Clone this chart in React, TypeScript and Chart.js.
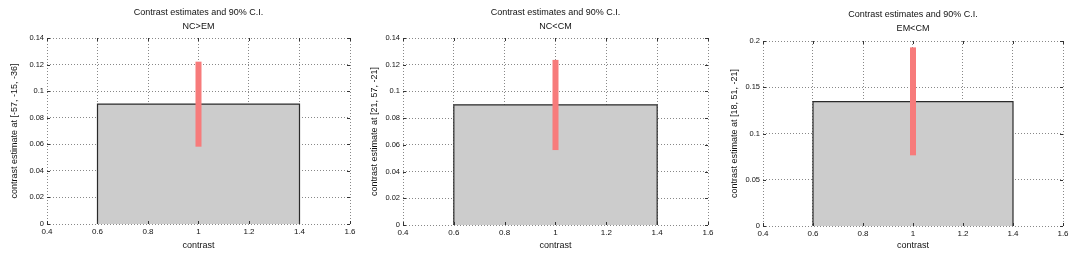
import React, { useEffect, useRef } from 'react';
import { Chart, registerables } from 'chart.js';

Chart.register(...registerables);

// ---------- data ----------
const contrastNames = ['NC>EM', 'NC<CM', 'EM<CM'];
const peakCoords = ['[-57, -15, -36]', '[21, 57, -21]', '[18, 51, -21]'];
const estimates = [0.0903, 0.09, 0.1345];
const ciLower = [0.0582, 0.0561, 0.0764];
const ciUpper = [0.1222, 0.1236, 0.1931];
const barCenter = 1;
const barEdges = [0.6, 1.4];
const xTicks = [0.4, 0.6, 0.8, 1, 1.2, 1.4, 1.6];
const yTicksSmall = [0, 0.02, 0.04, 0.06, 0.08, 0.1, 0.12, 0.14];
const yTicksLarge = [0, 0.05, 0.1, 0.15, 0.2];
const yTickSets = [yTicksSmall, yTicksSmall, yTicksLarge];
const titleText = 'Contrast estimates and 90% C.I.';
const xAxisLabel = 'contrast';
const yAxisLabelPrefix = 'contrast estimate at ';

// ---------- layout (pixels) ----------
const H = 261;
const panels = [
  { left: 0, width: 360, plotL: 47, plotR: 350, plotT: 38, plotB: 224, tTop: 6, tBot: 4 },
  { left: 360, width: 360, plotL: 43, plotR: 348, plotT: 38, plotB: 225, tTop: 6, tBot: 4 },
  { left: 720, width: 364, plotL: 43, plotR: 343, plotT: 41, plotB: 226, tTop: 8, tBot: 5 },
];

const FONT = "'Liberation Sans', Arial, Helvetica, sans-serif";
const TEXT = '#111';
const fmt = (v: number) => String(+Number(v).toFixed(3));

const inwardTicks = {
  id: 'inwardTicks',
  afterDraw(chart: any) {
    const { ctx, chartArea } = chart;
    const xs = chart.scales.x;
    const ys = chart.scales.y;
    const L = 3;
    ctx.save();
    ctx.strokeStyle = '#333';
    ctx.lineWidth = 1;
    ctx.beginPath();
    xs.ticks.forEach((t: any) => {
      const px = Math.round(xs.getPixelForValue(t.value)) + 0.5;
      ctx.moveTo(px, chartArea.bottom);
      ctx.lineTo(px, chartArea.bottom - L);
      ctx.moveTo(px, chartArea.top);
      ctx.lineTo(px, chartArea.top + L);
    });
    ys.ticks.forEach((t: any) => {
      const py = Math.round(ys.getPixelForValue(t.value)) + 0.5;
      ctx.moveTo(chartArea.left, py);
      ctx.lineTo(chartArea.left + L, py);
      ctx.moveTo(chartArea.right, py);
      ctx.lineTo(chartArea.right - L, py);
    });
    ctx.stroke();
    ctx.restore();
  },
};

function Panel({ idx }: { idx: number }) {
  const ref = useRef<HTMLCanvasElement>(null);
  const p = panels[idx];
  useEffect(() => {
    const canvas = ref.current!;
    const yTicks = yTickSets[idx];
    const est = estimates[idx];
    const chart = new Chart(canvas, {
      type: 'line',
      data: {
        datasets: [
          {
            data: [
              { x: barEdges[0], y: 0 },
              { x: barEdges[0], y: est },
              { x: barEdges[1], y: est },
              { x: barEdges[1], y: 0 },
            ],
            order: 2,
            fill: 'origin',
            backgroundColor: '#cccccc',
            borderColor: '#2a2a2a',
            borderWidth: 1.2,
            pointRadius: 0,
            tension: 0,
          },
          {
            data: [
              { x: barCenter, y: ciLower[idx] },
              { x: barCenter, y: ciUpper[idx] },
            ],
            order: 1,
            fill: false,
            borderColor: '#f77b7b',
            borderWidth: 6,
            borderCapStyle: 'butt',
            pointRadius: 0,
          },
        ],
      } as any,
      options: {
        responsive: false,
        animation: false,
        devicePixelRatio: 1,
        layout: { padding: { left: 0, right: p.width - p.plotR, top: 0, bottom: 0 } },
        plugins: {
          legend: { display: false },
          tooltip: { enabled: false },
          title: {
            display: true,
            fullSize: false,
            text: [titleText, contrastNames[idx]],
            color: TEXT,
            font: { family: FONT, size: 9, weight: 'normal', lineHeight: 14 / 9 },
            padding: { top: p.tTop, bottom: p.tBot },
          },
        },
        scales: {
          x: {
            type: 'linear',
            min: xTicks[0],
            max: xTicks[xTicks.length - 1],
            afterBuildTicks: (s: any) => {
              s.ticks = xTicks.map((v) => ({ value: v }));
            },
            afterFit: (s: any) => {
              s.height = H - p.plotB;
            },
            ticks: {
              autoSkip: false,
              maxRotation: 0,
              padding: 3,
              color: TEXT,
              font: { family: FONT, size: 8 },
              callback: (v: any) => fmt(v),
            },
            grid: { color: '#888', lineWidth: 1, drawTicks: false },
            border: { display: false, dash: [1, 2] },
            title: {
              display: true,
              text: xAxisLabel,
              color: TEXT,
              font: { family: FONT, size: 9 },
              padding: { top: 0, bottom: 10.5 },
            },
          },
          y: {
            type: 'linear',
            min: yTicks[0],
            max: yTicks[yTicks.length - 1],
            afterBuildTicks: (s: any) => {
              s.ticks = yTicks.map((v) => ({ value: v }));
            },
            afterFit: (s: any) => {
              s.width = p.plotL;
            },
            ticks: {
              autoSkip: false,
              padding: 3,
              color: TEXT,
              font: { family: FONT, size: 7.5 },
              callback: (v: any) => fmt(v),
            },
            grid: { color: '#888', lineWidth: 1, drawTicks: false },
            border: { display: false, dash: [1, 2] },
            title: {
              display: true,
              text: yAxisLabelPrefix + peakCoords[idx],
              color: TEXT,
              font: { family: FONT, size: 9 },
              padding: { top: 9.5, bottom: 0 },
            },
          },
        },
      } as any,
      plugins: [inwardTicks],
    });
    return () => chart.destroy();
  }, [idx]);
  return (
    <div style={{ position: 'absolute', left: p.left, top: 0, width: p.width, height: H }}>
      <canvas ref={ref} width={p.width} height={H} style={{ display: 'block' }} />
    </div>
  );
}

export default function App() {
  return (
    <div
      style={{
        position: 'fixed',
        left: 0,
        top: 0,
        width: 1084,
        height: H,
        background: '#fff',
        overflow: 'hidden',
      }}
    >
      {panels.map((_, i) => (
        <Panel key={i} idx={i} />
      ))}
    </div>
  );
}
